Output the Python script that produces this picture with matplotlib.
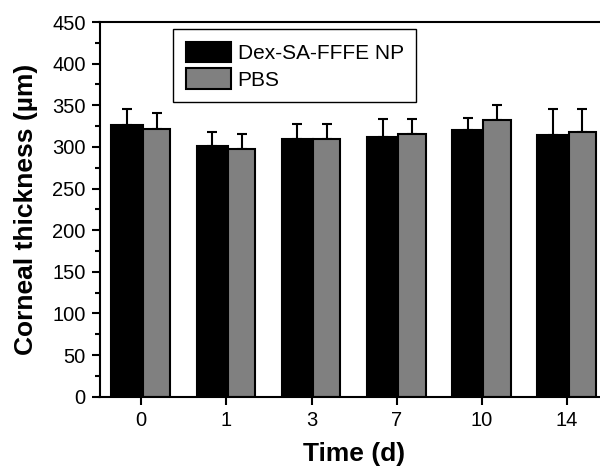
import numpy as np
import matplotlib
matplotlib.use("Agg")
import matplotlib.pyplot as plt
from matplotlib.ticker import MultipleLocator

plt.rcParams["font.family"] = ["Liberation Sans", "DejaVu Sans"]

days = ["0", "1", "3", "7", "10", "14"]
np_mean = [326, 301, 310, 312, 320, 314]
np_err = [19, 17, 18, 21, 15, 31]
pbs_mean = [322, 298, 309, 315, 332, 318]
pbs_err = [19, 18, 18, 18, 18, 28]

x = np.arange(len(days))

fig = plt.figure(figsize=(6, 4.67), dpi=100)
# axes runs a bit past the right edge, as in the cropped original
ax = fig.add_axes([99.5 / 600, 1 - 396.7 / 467, 510 / 600, (396.7 - 22) / 467])

zeros = np.zeros(len(days))
ax.bar(x - 0.165, np_mean, width=0.37, color="black", edgecolor="black",
       linewidth=1.5, label="Dex-SA-FFFE NP", zorder=2)
ax.bar(x + 0.18, pbs_mean, width=0.32, color="#808080", edgecolor="black",
       linewidth=1.5, label="PBS", zorder=2)
ax.errorbar(x - 0.165, np_mean, yerr=[zeros, np_err], fmt="none", ecolor="black",
            elinewidth=1.5, capsize=3.8, capthick=1.5, zorder=1)
ax.errorbar(x + 0.18, pbs_mean, yerr=[zeros, pbs_err], fmt="none", ecolor="black",
            elinewidth=1.5, capsize=3.8, capthick=1.5, zorder=1)

ax.set_xlim(-0.49, 5.5)
ax.set_ylim(0, 450)
ax.set_xticks(x)
ax.set_xticklabels(days)
ax.yaxis.set_major_locator(MultipleLocator(50))
ax.yaxis.set_minor_locator(MultipleLocator(25))
ax.tick_params(axis="both", which="major", direction="out", length=6, width=1.5,
               labelsize=14.5, pad=4)
ax.tick_params(axis="y", which="minor", direction="out", length=3.5, width=1.5)
ax.tick_params(axis="x", which="minor", bottom=False)
for s in ax.spines.values():
    s.set_linewidth(1.5)

ax.set_xlabel("Time (d)", fontsize=19, fontweight="bold", labelpad=9)
ax.set_ylabel("Corneal thickness (\u00b5m)", fontsize=19, fontweight="bold", labelpad=10)

leg = ax.legend(loc="upper left", bbox_to_anchor=(173 / 600, 1 - 29 / 467),
                bbox_transform=fig.transFigure, fontsize=15, frameon=True,
                fancybox=False, edgecolor="black", framealpha=1,
                handlelength=2.2, handleheight=1.15, labelspacing=0.25,
                handletextpad=0.3, borderpad=0.6, borderaxespad=0)
leg.get_frame().set_linewidth(1.0)

fig.savefig("out.png", dpi=100)
